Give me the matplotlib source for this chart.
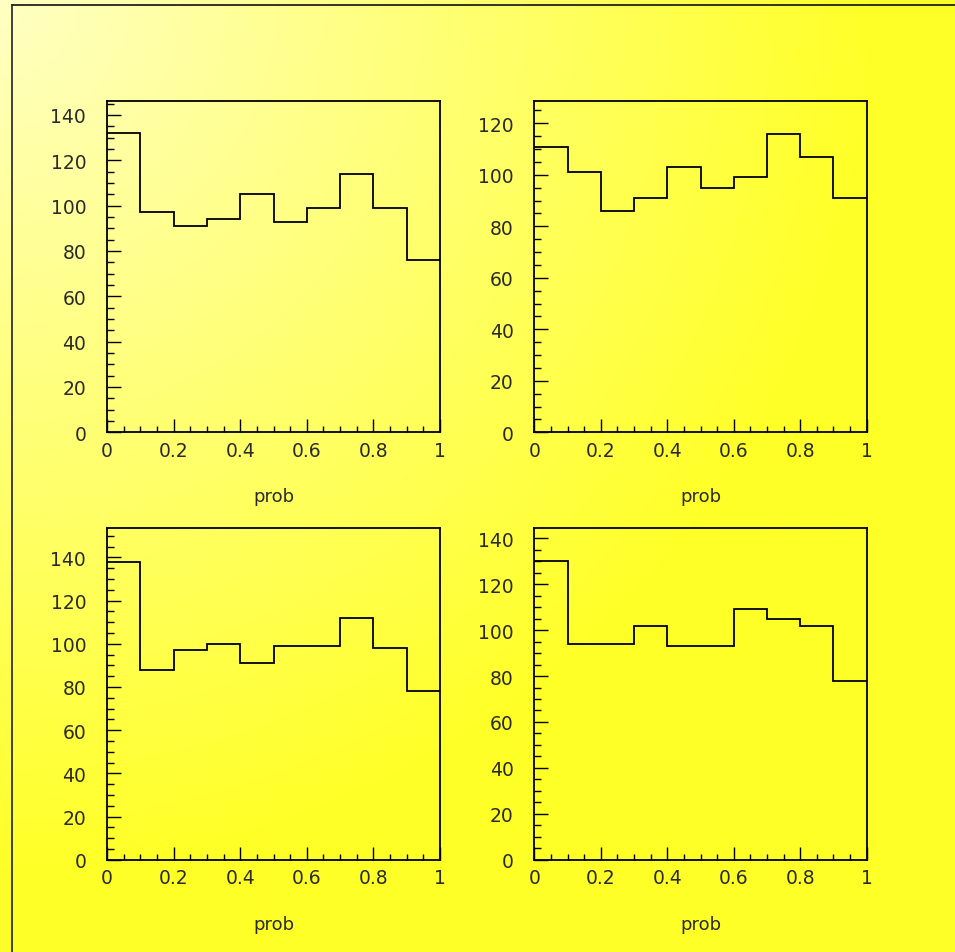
import numpy as np
import matplotlib
matplotlib.use("Agg")
import matplotlib.pyplot as plt
from matplotlib.lines import Line2D
from matplotlib.ticker import MultipleLocator, FuncFormatter

# ---- data ----
bin_edges = [0.0, 0.1, 0.2, 0.3, 0.4, 0.5, 0.6, 0.7, 0.8, 0.9, 1.0]
hist_top_left = [132, 97, 91, 94, 105, 93, 99, 114, 99, 76]
hist_top_right = [111, 101, 86, 91, 103, 95, 99, 116, 107, 91]
hist_bottom_left = [138, 88, 97, 100, 91, 99, 99, 112, 98, 78]
hist_bottom_right = [130, 94, 94, 102, 93, 93, 109, 105, 102, 78]
ymax_values = [146.3, 128.8, 153.6, 144.5]
x_label = "prob"

W, H = 955, 953
fig = plt.figure(figsize=(W / 100, H / 100), dpi=100)

# background radial gradient (light at top-left, saturated yellow elsewhere)
bg = fig.add_axes([0, 0, 1, 1], zorder=-10)
yy, xx = np.mgrid[0:H, 0:W]
r = np.sqrt(xx ** 2 + yy ** 2)
blue = np.clip(195 - 160 * r / 900.0, 40, 255) / 255.0
img = np.dstack([np.ones_like(blue), np.ones_like(blue), blue])
bg.imshow(img, extent=[0, 1, 0, 1], aspect="auto", origin="upper")
bg.set_axis_off()

# outer pad frame
fx = 12 / W
fy = 1 - 6 / H
fig.add_artist(Line2D([fx, fx], [fy, 0], transform=fig.transFigure, color="#333333", lw=1.3))
fig.add_artist(Line2D([fx, 1.01], [fy, fy], transform=fig.transFigure, color="#222222", lw=1.3))

font = ["DejaVu Sans"]
positions = [
    (107, 101.7, 440, 433.3),
    (534.3, 101.7, 866.7, 433.3),
    (107, 529, 440, 860.7),
    (534.3, 529, 866.7, 860.7),
]
data = [hist_top_left, hist_top_right, hist_bottom_left, hist_bottom_right]

for (x0, y0, x1, y1), vals, ymax in zip(positions, data, ymax_values):
    ax = fig.add_axes([x0 / W, 1 - y1 / H, (x1 - x0) / W, (y1 - y0) / H])
    ax.patch.set_alpha(0)
    ax.stairs(vals, bin_edges, color="black", lw=1.3, baseline=None)
    ax.set_xlim(0, 1)
    ax.set_ylim(0, ymax)
    for s in ax.spines.values():
        s.set_linewidth(1.3)
        s.set_color("black")
    ax.xaxis.set_major_locator(MultipleLocator(0.2))
    ax.xaxis.set_minor_locator(MultipleLocator(0.05))
    ax.yaxis.set_major_locator(MultipleLocator(20))
    ax.yaxis.set_minor_locator(MultipleLocator(5))
    ax.xaxis.set_major_formatter(FuncFormatter(lambda v, p: "%g" % round(v, 3)))
    ax.yaxis.set_major_formatter(FuncFormatter(lambda v, p: "%g" % round(v, 3)))
    ax.tick_params(axis="both", which="both", direction="in", top=False, right=False,
                   color="black", width=1.0)
    ax.tick_params(axis="y", which="major", length=10, pad=15)
    ax.tick_params(axis="y", which="minor", length=5)
    ax.tick_params(axis="x", which="major", length=9.5, pad=6)
    ax.tick_params(axis="x", which="minor", length=4.5)
    for lab in ax.get_xticklabels() + ax.get_yticklabels():
        lab.set_fontfamily(font)
        lab.set_fontsize(13.5)
        lab.set_color("#2a2a2a")
    fig.text((x0 + x1) / 2 / W, 1 - (y1 + 64) / H, x_label, ha="center", va="center",
             fontfamily=font, fontsize=13, color="#2a2a2a")

fig.savefig("out.png", dpi=100)
